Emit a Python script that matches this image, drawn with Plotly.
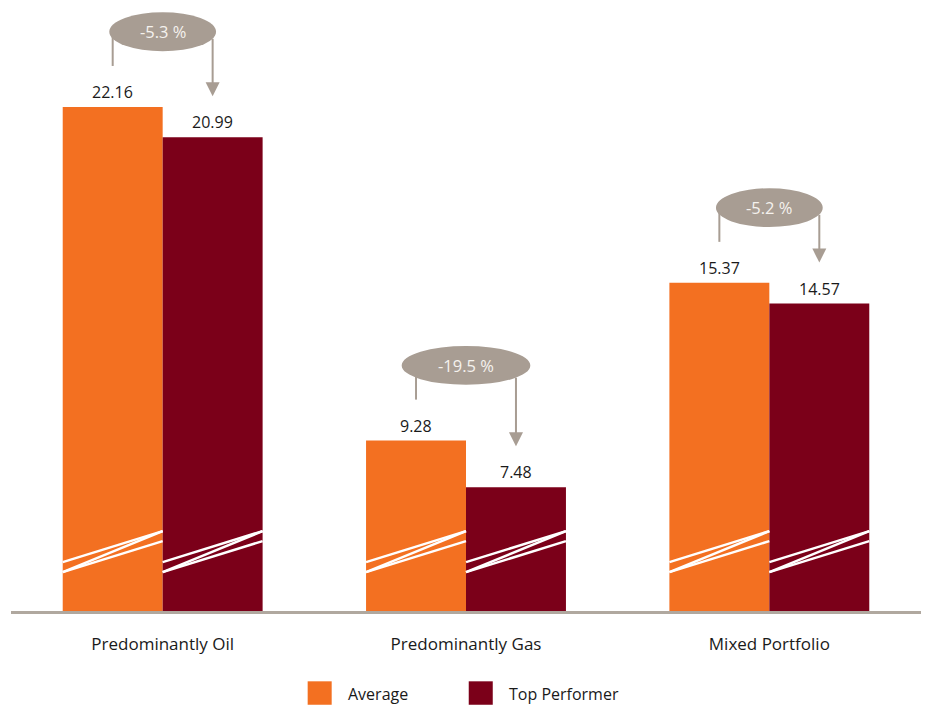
import plotly.graph_objects as go

# Data
categories = ["Predominantly Oil", "Predominantly Gas", "Mixed Portfolio"]
average = [22.16, 9.28, 15.37]
top_performer = [20.99, 7.48, 14.57]
change_labels = ["-5.3 %", "-19.5 %", "-5.2 %"]
series_names = ["Average", "Top Performer"]

# Styling
ORANGE = "#F37021"
MAROON = "#7B0019"
GREY = "#A89D93"
AXIS_GREY = "#B0A89F"
TEXT = "#1A1A1A"
FONT = "Open Sans"

BARGAP = 0.341
HALF = (1 - BARGAP) / 2          # width of one bar in category units
Y_RANGE = [2.7, 25.9]

fig = go.Figure()
fig.add_trace(go.Bar(x=categories, y=average, name=series_names[0],
                     marker=dict(color=ORANGE, line=dict(width=0)),
                     showlegend=False, hoverinfo="skip"))
fig.add_trace(go.Bar(x=categories, y=top_performer, name=series_names[1],
                     marker=dict(color=MAROON, line=dict(width=0)),
                     showlegend=False, hoverinfo="skip"))

shapes = []
annotations = []

# Axis-break marks near the bottom of every bar
BREAK_LOW = (4.587, 4.201)   # left ends
BREAK_HIGH = (5.784, 5.398)  # right ends
for i in range(len(categories)):
    for left in (i - HALF, i):
        right = left + HALF
        segs = [(BREAK_LOW[0], BREAK_HIGH[0]),
                (BREAK_LOW[1], BREAK_HIGH[1]),
                (BREAK_LOW[1], BREAK_HIGH[0])]
        for y0, y1 in segs:
            shapes.append(dict(type="line", xref="x", yref="y",
                               x0=left, y0=y0, x1=right, y1=y1,
                               line=dict(color="white", width=2.5),
                               layer="above"))

# Value labels above bars
for i, (a, t) in enumerate(zip(average, top_performer)):
    for xpos, val in ((i - HALF / 2, a), (i + HALF / 2, t)):
        annotations.append(dict(x=xpos, y=val, xref="x", yref="y",
                                text=f"{val:.2f}", showarrow=False,
                                yanchor="bottom", yshift=2,
                                font=dict(family=FONT, size=16, color=TEXT)))

# Change bubbles with connector and arrow
ELL_RISE = 2.9      # bubble centre above the average bar
ELL_B = 0.75        # bubble half-height
GAP = 1.58          # clearance between connector ends and bars
for i, (a, t, lab) in enumerate(zip(average, top_performer, change_labels)):
    ell_a = 0.036 * len(lab) - 0.04
    yc = a + ELL_RISE
    dx = HALF / 2
    edge = yc - ELL_B * max(0.0, 1 - (dx / ell_a) ** 2) ** 0.5 + 0.05
    # connector from the average bar
    shapes.append(dict(type="line", xref="x", yref="y",
                       x0=i - dx, x1=i - dx, y0=yc, y1=a + GAP,
                       line=dict(color=GREY, width=2), layer="above"))
    shapes.append(dict(type="circle", xref="x", yref="y",
                       x0=i - ell_a, x1=i + ell_a,
                       y0=yc - ELL_B, y1=yc + ELL_B,
                       fillcolor=GREY, line=dict(width=0), layer="above"))
    annotations.append(dict(x=i, y=yc, xref="x", yref="y", text=lab,
                            showarrow=False,
                            font=dict(family=FONT, size=16.5, color="#F5F2EE")))
    # arrow down to the top performer bar
    annotations.append(dict(x=i + dx, y=t + GAP, xref="x", yref="y",
                            ax=i + dx, ay=edge, axref="x", ayref="y",
                            text="", showarrow=True, arrowhead=2,
                            arrowsize=1.4, arrowwidth=2, arrowcolor=GREY,
                            standoff=0, startstandoff=0))

# Legend drawn as large swatches
legend_items = [(series_names[0], ORANGE, 0.326), (series_names[1], MAROON, 0.503)]
for name, color, x0 in legend_items:
    shapes.append(dict(type="rect", xref="paper", yref="paper",
                       x0=x0, x1=x0 + 0.0264, y0=-0.156, y1=-0.117,
                       fillcolor=color, line=dict(width=0)))
    annotations.append(dict(x=x0 + 0.0264 + 0.0155, y=-0.138,
                            xref="paper", yref="paper", text=name,
                            showarrow=False, xanchor="left", yanchor="middle",
                            font=dict(family=FONT, size=16, color=TEXT)))

fig.update_layout(
    width=927, height=706,
    margin=dict(l=11, r=6, t=10, b=95),
    paper_bgcolor="white", plot_bgcolor="white",
    barmode="group", bargap=BARGAP, bargroupgap=0,
    shapes=shapes, annotations=annotations,
    xaxis=dict(range=[-0.5, 2.5], showline=True, linecolor=AXIS_GREY,
               linewidth=3, showgrid=False, zeroline=False, ticks="",
               ticklabelstandoff=16,
               tickfont=dict(family=FONT, size=17, color=TEXT)),
    yaxis=dict(range=Y_RANGE, visible=False, showgrid=False, zeroline=False),
)

fig.write_html("out.html")
